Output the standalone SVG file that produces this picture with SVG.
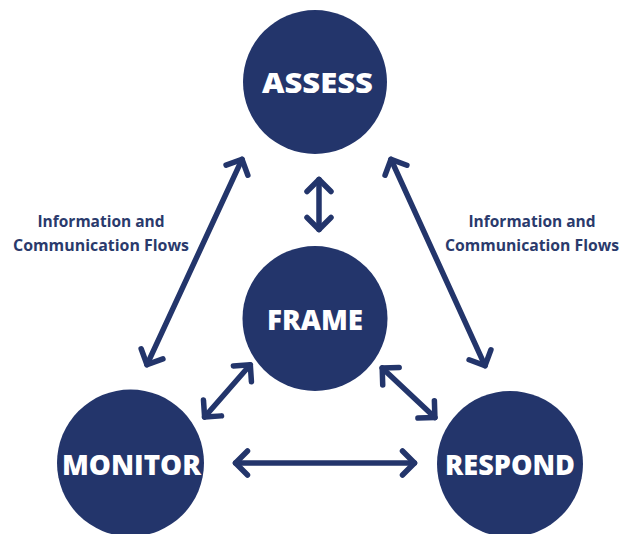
<svg xmlns="http://www.w3.org/2000/svg" width="621" height="534" viewBox="0 0 621 534">
  <style>
    .node { fill: #23356b; }
    .node-text { font-family: "Open Sans", "Liberation Sans", sans-serif; font-weight: 800; font-size: 29px; fill: #ffffff; text-anchor: middle; }
    .label { font-family: "Open Sans", "Liberation Sans", sans-serif; font-weight: 700; font-size: 15.5px; fill: #2a3a6c; text-anchor: middle; }
    .link { fill: none; stroke: #23356b; stroke-width: 5.5; stroke-linecap: round; marker-start: url(#head); marker-end: url(#head); }
  </style>
  <defs>
    <marker id="head" markerUnits="userSpaceOnUse" viewBox="-20 -20 30 40" refX="0" refY="0" markerWidth="30" markerHeight="40" orient="auto-start-reverse" overflow="visible">
      <path d="M-12,-12 L0,0 L-12,12" fill="none" stroke="#23356b" stroke-width="5.5" stroke-linecap="round" stroke-linejoin="round"/>
    </marker>
  </defs>

  <rect width="621" height="534" fill="#ffffff"/>

  <!-- connectors -->
  <g id="connectors">
    <path class="link" d="M147,364.7 L242,159.3"/>
    <path class="link" d="M391,159.3 L485,365.7"/>
    <path class="link" d="M319,179.5 L319,229.5"/>
    <path class="link" d="M204.6,417 L250.3,364.8"/>
    <path class="link" d="M382.2,368 L434.9,417.6"/>
    <path class="link" d="M235.5,463 L414.5,463"/>
  </g>

  <!-- flow labels -->
  <g id="label-left">
    <text class="label" x="101" y="227" textLength="127" lengthAdjust="spacingAndGlyphs">Information and</text>
    <text class="label" x="101" y="251" textLength="176" lengthAdjust="spacingAndGlyphs">Communication Flows</text>
  </g>
  <g id="label-right">
    <text class="label" x="532" y="227" textLength="127" lengthAdjust="spacingAndGlyphs">Information and</text>
    <text class="label" x="532" y="251" textLength="174" lengthAdjust="spacingAndGlyphs">Communication Flows</text>
  </g>

  <!-- nodes -->
  <g id="assess">
    <circle class="node" cx="315" cy="82" r="72"/>
    <text class="node-text" x="317.5" y="93" textLength="111" lengthAdjust="spacingAndGlyphs">ASSESS</text>
  </g>
  <g id="frame">
    <circle class="node" cx="315" cy="318.5" r="72.5"/>
    <text class="node-text" x="315" y="330" textLength="96" lengthAdjust="spacingAndGlyphs">FRAME</text>
  </g>
  <g id="monitor">
    <circle class="node" cx="130.5" cy="463" r="73.5"/>
    <text class="node-text" x="131.5" y="475" textLength="139" lengthAdjust="spacingAndGlyphs">MONITOR</text>
  </g>
  <g id="respond">
    <circle class="node" cx="510" cy="464" r="73"/>
    <text class="node-text" x="510" y="475" textLength="130" lengthAdjust="spacingAndGlyphs">RESPOND</text>
  </g>
</svg>
